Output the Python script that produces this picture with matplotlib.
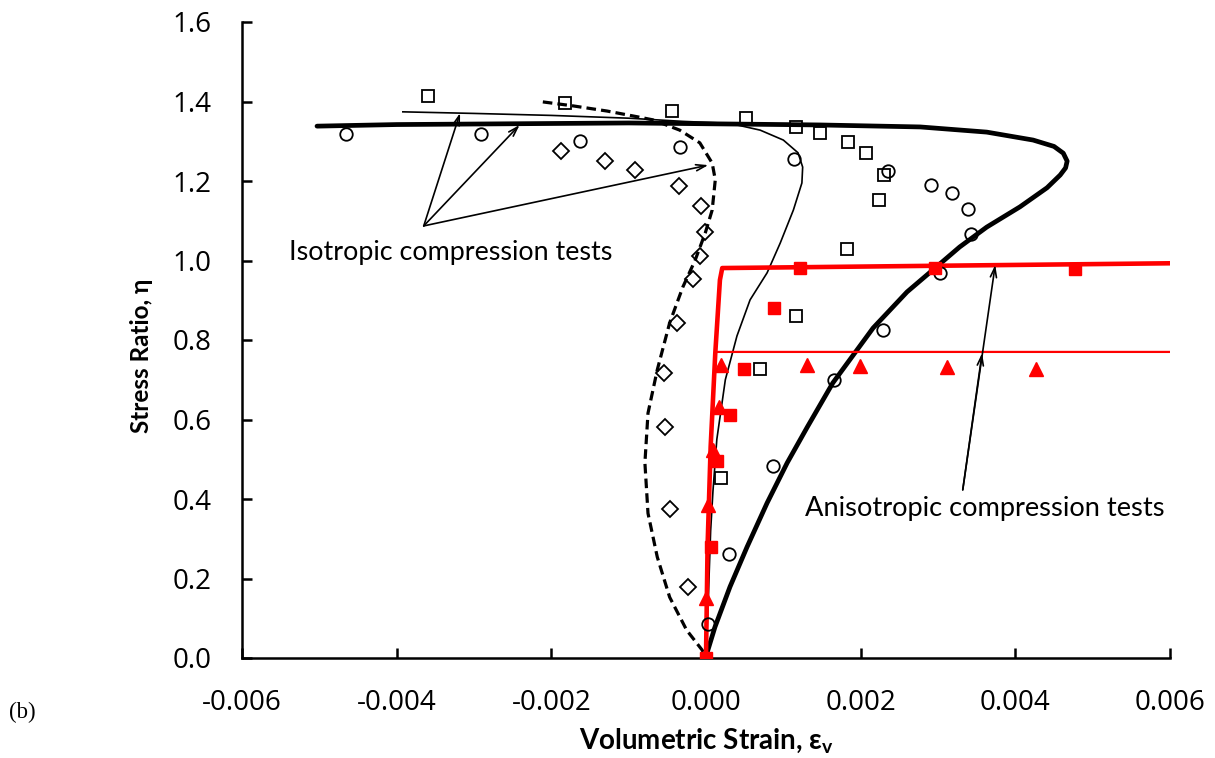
import numpy as np
import matplotlib.pyplot as plt

plt.rcParams['font.family'] = ['Lato', 'DejaVu Sans']

# measured points, isotropic tests (open symbols)
sq_eps = [-0.00360, -0.00182, -0.00044, 0.00052, 0.00116, 0.00147, 0.00184,
          0.00207, 0.00230, 0.00224, 0.00182, 0.00116, 0.00070, 0.00019]
sq_eta = [1.414, 1.396, 1.376, 1.359, 1.336, 1.321, 1.298,
          1.271, 1.215, 1.152, 1.029, 0.860, 0.727, 0.453]

ci_eps = [-0.00466, -0.00291, -0.00163, -0.00034, 0.00114, 0.00235, 0.00291,
          0.00318, 0.00339, 0.00343, 0.00303, 0.00229, 0.00166, 0.00087,
          0.00030, 0.00003]
ci_eta = [1.318, 1.318, 1.301, 1.286, 1.255, 1.225, 1.190,
          1.170, 1.130, 1.067, 0.969, 0.825, 0.699, 0.483,
          0.262, 0.086]

di_eps = [-0.00188, -0.00131, -0.00092, -0.00035, -0.00007, -0.00001, -0.00008,
          -0.00017, -0.00038, -0.00054, -0.00053, -0.00047, -0.00023]
di_eta = [1.276, 1.250, 1.228, 1.188, 1.137, 1.072, 1.011,
          0.954, 0.843, 0.717, 0.581, 0.375, 0.179]

# measured points, anisotropic tests (red filled)
rs_eps = [0.0, 0.00006, 0.00014, 0.00031, 0.00049, 0.00088, 0.00122, 0.00296, 0.00477]
rs_eta = [0.0, 0.279, 0.496, 0.611, 0.727, 0.881, 0.981, 0.981, 0.979]

rt_eps = [0.0, 0.0, 0.00003, 0.00009, 0.00017, 0.00019, 0.00131, 0.00199, 0.00312, 0.00427]
rt_eta = [0.0, 0.151, 0.385, 0.523, 0.632, 0.737, 0.737, 0.735, 0.732, 0.727]

# model curves
thick_eps = [-0.00503, -0.00400, -0.00250, -0.00100, 0.00050, 0.00147, 0.00277,
             0.00363, 0.00423, 0.00450, 0.00462, 0.00467, 0.00465, 0.00458, 0.00441,
             0.00406, 0.00363, 0.00328, 0.00298, 0.00260, 0.00216, 0.00164,
             0.00131, 0.00105, 0.00079, 0.00053, 0.00031, 0.000116, 0.000013, 0.0]
thick_eta = [1.338, 1.342, 1.344, 1.346, 1.343, 1.341, 1.336,
             1.323, 1.303, 1.287, 1.270, 1.250, 1.233, 1.215, 1.183,
             1.135, 1.084, 1.034, 0.984, 0.921, 0.830, 0.692,
             0.581, 0.491, 0.390, 0.279, 0.179, 0.078, 0.0126, 0.0]

thin_eps = [-0.00392, -0.00300, -0.00200, -0.00100, -0.00030, 0.00031, 0.00070,
            0.00100, 0.00119, 0.00125, 0.00124, 0.00113, 0.00096, 0.00079,
            0.00057, 0.00040, 0.00025, 0.00014, 0.00009, 0.00006, 0.00003, 0.0]
thin_eta = [1.374, 1.370, 1.365, 1.358, 1.350, 1.345, 1.328,
            1.303, 1.271, 1.235, 1.195, 1.127, 1.044, 0.969,
            0.901, 0.810, 0.700, 0.550, 0.420, 0.320, 0.150, 0.0]

dash_eps = [-0.00211, -0.00172, -0.00128, -0.00090, -0.00069, -0.00034, -0.00008,
            0.00008, 0.00012, 0.00008, -0.00001, -0.00014, -0.00030, -0.00047,
            -0.00063, -0.00075, -0.00079, -0.00075, -0.00063, -0.00047, -0.00025,
            -0.00005, 0.0]
dash_eta = [1.399, 1.389, 1.376, 1.362, 1.354, 1.328, 1.296,
            1.245, 1.203, 1.127, 1.069, 1.001, 0.933, 0.843,
            0.725, 0.616, 0.491, 0.364, 0.254, 0.153, 0.070,
            0.020, 0.0]

red1_eps = [0.0, 0.00002, 0.00006, 0.00012, 0.00018, 0.00021, 0.0060]
red1_eta = [0.0, 0.279, 0.531, 0.767, 0.951, 0.981, 0.993]

red2_eps = [0.0, 0.00002, 0.00006, 0.00012, 0.0060]
red2_eta = [0.0, 0.279, 0.531, 0.770, 0.770]

xticks = [-0.006, -0.004, -0.002, 0.0, 0.002, 0.004, 0.006]
yticks = [0.0, 0.2, 0.4, 0.6, 0.8, 1.0, 1.2, 1.4, 1.6]

fig = plt.figure(figsize=(12.15, 7.58), dpi=100)
ax = fig.add_axes([242/1215, 1-658/758, 928/1215, 636/758])

ax.plot(thick_eps, thick_eta, color='black', lw=3.4, solid_capstyle='round',
        solid_joinstyle='round', zorder=2)
ax.plot(thin_eps, thin_eta, color='black', lw=1.2, zorder=2)
ax.plot(dash_eps, dash_eta, color='black', lw=2.3, ls=(0, (3, 1.6)), zorder=2)
ax.plot(red1_eps, red1_eta, color='red', lw=3.3, zorder=3)
ax.plot(red2_eps, red2_eta, color='red', lw=1.6, zorder=3)

ax.plot(sq_eps, sq_eta, 's', ms=8.5, mfc='none', mec='black', mew=1.3, zorder=4)
ax.plot(ci_eps, ci_eta, 'o', ms=9, mfc='none', mec='black', mew=1.3, zorder=4)
ax.plot(di_eps, di_eta, 'D', ms=8, mfc='none', mec='black', mew=1.3, zorder=4)
ax.plot(rs_eps, rs_eta, 's', ms=9, color='red', zorder=5)
ax.plot(rt_eps, rt_eta, '^', ms=9.5, color='red', zorder=5)

# arrows pointing to the model curves
arrow = dict(arrowstyle='->,head_length=0.7,head_width=0.22', color='black', lw=1.2,
             shrinkA=0, shrinkB=0)
iso_tail = (-0.00365, 1.087)
for tip in [(-0.00318, 1.371), (-0.00241, 1.341), (0.00003, 1.240)]:
    ax.annotate('', xy=tip, xytext=iso_tail, arrowprops=arrow, zorder=6)
ax.text(-0.0033, 1.019, 'Isotropic compression tests', ha='center', va='center', fontsize=19.4)

aniso_tail = (0.00332, 0.423)
for tip in [(0.00357, 0.767), (0.00374, 0.989)]:
    ax.annotate('', xy=tip, xytext=aniso_tail, arrowprops=arrow, zorder=6)
ax.text(0.00361, 0.375, 'Anisotropic compression tests', ha='center', va='center', fontsize=19.6)

ax.set_xlim(-0.006, 0.006)
ax.set_ylim(0, 1.6)
ax.set_xticks(xticks)
ax.set_yticks(yticks)
ax.set_xticklabels(['%.3f' % v for v in xticks], family='Open Sans')
ax.set_yticklabels(['%.1f' % v for v in yticks], family='Open Sans')
ax.tick_params(direction='in', length=7, width=1.8, labelsize=20)
ax.tick_params(axis='x', pad=22)
ax.tick_params(axis='y', pad=22)
for s in ['top', 'right']:
    ax.spines[s].set_visible(False)
for s in ['left', 'bottom']:
    ax.spines[s].set_linewidth(1.8)

ax.set_xlabel(r'Volumetric Strain, $\mathregular{\varepsilon_v}$', fontsize=20, fontweight='bold')
ax.set_ylabel('Stress Ratio, η', fontsize=17.5, fontweight='bold')
ax.xaxis.set_label_coords(0.5, -0.129)
ax.xaxis.label.set_va('center')
ax.yaxis.set_label_coords(-0.108, 0.475)
ax.yaxis.label.set_va('center')

fig.text(0.007, 1-712/758, '(b)', family='Liberation Serif', fontsize=16.5, va='center')

fig.savefig('out.png', dpi=100)
